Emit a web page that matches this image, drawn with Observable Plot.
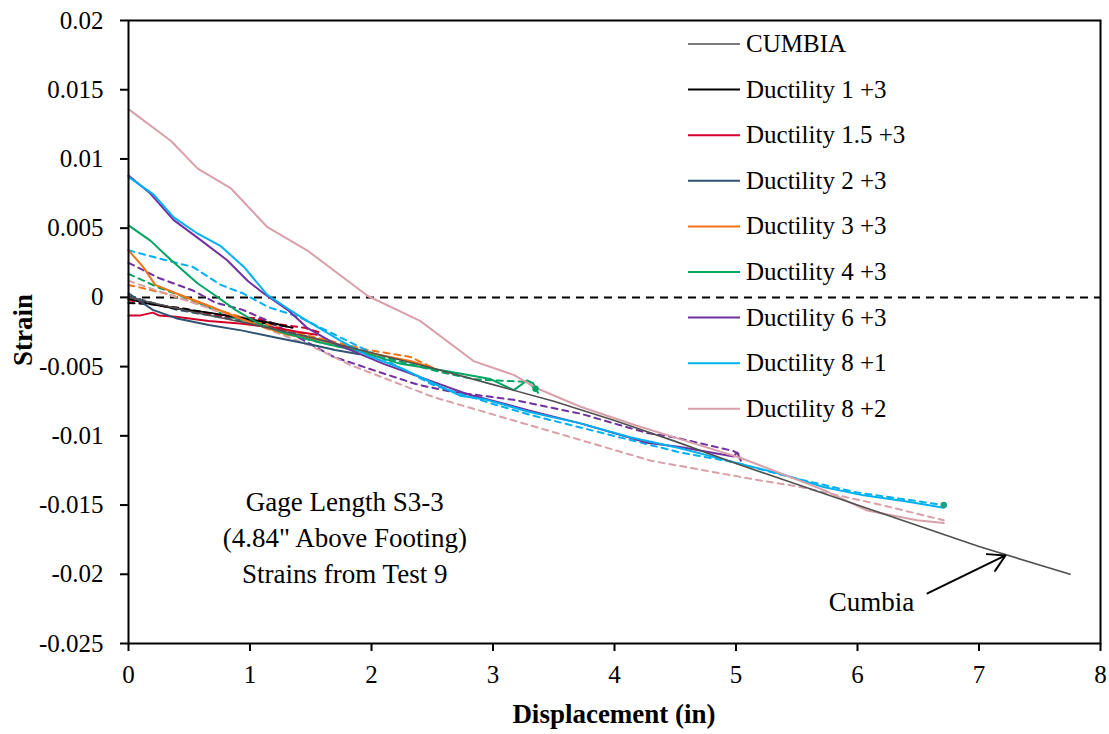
<!DOCTYPE html>
<html><head><meta charset="utf-8">
<script src="https://cdn.jsdelivr.net/npm/d3@7"></script>
<script src="https://cdn.jsdelivr.net/npm/@observablehq/plot@0.6"></script>
<style>
body{margin:0;background:#fff;}
#wrap{position:relative;width:1109px;height:734px;}
</style>
</head><body><div id="wrap"></div>
<script>
// ---------- data ----------
const xTicks = [0,1,2,3,4,5,6,7,8];
const yTicks = [0.02,0.015,0.01,0.005,0,-0.005,-0.01,-0.015,-0.02,-0.025];
const yTickLabels = ["0.02","0.015","0.01","0.005","0","-0.005","-0.01","-0.015","-0.02","-0.025"];

const seriesNames = ["CUMBIA","Ductility 1 +3","Ductility 1.5 +3","Ductility 2 +3","Ductility 3 +3","Ductility 4 +3","Ductility 6 +3","Ductility 8 +1","Ductility 8 +2"];
const seriesColors = ["#505050","#000000","#d4002a","#2f5373","#f07318","#00a562","#7030a0","#00b0f0","#d9a0aa"];

const cumbia = [[0,0],[0.5,-0.0010],[1.0,-0.0019],[1.5,-0.0029],[2.0,-0.0040],[2.5,-0.0051],[3.0,-0.0063],[3.5,-0.0075],[4.0,-0.0089],[4.5,-0.0104],[5.0,-0.0120],[5.5,-0.0135],[6.0,-0.0150],[6.5,-0.0165],[7.0,-0.0180],[7.75,-0.0200]];

const d1Solid = [[0,-0.0001],[0.14,-0.0004],[0.39,-0.0008],[0.66,-0.0011],[0.94,-0.0015],[1.21,-0.0019],[1.35,-0.0022]];
const d1Dash  = [[0,-0.0004],[0.2,-0.0005],[0.45,-0.0008],[0.7,-0.0012],[1.0,-0.0017],[1.3,-0.0021]];
const d15Solid = [[0,-0.0013],[0.1,-0.0013],[0.2,-0.0011],[0.25,-0.0013],[0.39,-0.0014],[0.66,-0.0017],[0.94,-0.0019],[1.21,-0.0022],[1.4,-0.0025],[1.55,-0.0027]];
const d15Dash  = [[0,-0.0002],[0.4,-0.0008],[0.8,-0.0014],[1.05,-0.0015],[1.2,-0.0019],[1.45,-0.0022],[1.6,-0.0026]];
const d2Solid = [[0,0.0003],[0.2,-0.0009],[0.39,-0.0015],[0.66,-0.0020],[0.94,-0.0024],[1.21,-0.0029],[1.5,-0.0034],[1.7,-0.0038],[1.9,-0.0041]];
const d2Dash  = [[0,0.0001],[0.4,-0.0009],[0.8,-0.0015],[1.2,-0.0022],[1.6,-0.0031],[1.9,-0.0038]];
const d3Solid = [[0,0.0034],[0.12,0.0022],[0.22,0.0009],[0.39,0.0003],[0.66,-0.0006],[0.88,-0.0014],[1.13,-0.0022],[1.31,-0.0027],[1.58,-0.0031],[1.97,-0.0040],[2.32,-0.0046],[2.51,-0.0051]];
const d3Dash  = [[0,0.0009],[0.3,0.0003],[0.66,-0.0007],[1.07,-0.0018],[1.5,-0.0028],[1.97,-0.0038],[2.32,-0.0043],[2.53,-0.0052]];
const d4Solid = [[0,0.0052],[0.18,0.0041],[0.35,0.0027],[0.57,0.0010],[0.72,0.0001],[0.88,-0.0009],[1.07,-0.0019],[1.29,-0.0026],[1.6,-0.0033],[1.9,-0.0039],[2.24,-0.0048],[2.6,-0.0053],[2.98,-0.0059],[3.17,-0.0067],[3.28,-0.0060],[3.33,-0.0062],[3.37,-0.0069]];
const d4Dash  = [[0,0.0017],[0.25,0.0007],[0.53,-0.0002],[0.8,-0.0013],[1.07,-0.0020],[1.5,-0.0031],[2.0,-0.0041],[2.57,-0.0054],[2.84,-0.0059],[3.0,-0.0060],[3.28,-0.0061],[3.35,-0.0066]];
const d6Solid = [[0,0.0088],[0.18,0.0075],[0.37,0.0056],[0.57,0.0043],[0.81,0.0027],[0.98,0.0012],[1.11,0.0003],[1.31,-0.0009],[1.47,-0.0022],[1.69,-0.0033],[2.1,-0.0048],[2.51,-0.0061],[2.79,-0.0070],[3.06,-0.0076],[3.31,-0.0082],[3.72,-0.0091],[4.27,-0.0105],[4.54,-0.0108],[4.98,-0.0115],[5.01,-0.0112],[5.04,-0.0118]];
const d6Dash  = [[0,0.0025],[0.25,0.0014],[0.53,0.0005],[0.72,-0.0004],[0.94,-0.0009],[1.15,-0.0017],[1.42,-0.0030],[1.69,-0.0043],[2.1,-0.0055],[2.38,-0.0063],[2.65,-0.0068],[3.17,-0.0074],[3.72,-0.0084],[4.27,-0.0098],[4.49,-0.0101],[4.98,-0.0111],[5.02,-0.0113]];
const d81Solid = [[0,0.0087],[0.21,0.0074],[0.37,0.0058],[0.57,0.0046],[0.76,0.0037],[0.95,0.0022],[1.14,0.0002],[1.31,-0.0008],[1.47,-0.0017],[1.74,-0.0031],[1.97,-0.0042],[2.24,-0.0051],[2.51,-0.0062],[2.73,-0.0071],[2.95,-0.0074],[3.31,-0.0083],[3.72,-0.0091],[4.13,-0.0101],[4.54,-0.0109],[4.98,-0.0119],[5.39,-0.0128],[5.72,-0.0137],[6.05,-0.0143],[6.38,-0.0147],[6.71,-0.0152]];
const d81Dash  = [[0,0.0034],[0.3,0.0027],[0.53,0.0022],[0.76,0.0009],[0.94,0.0003],[1.15,-0.0007],[1.4,-0.0014],[1.7,-0.0027],[2.0,-0.0040],[2.5,-0.0063],[3.0,-0.0077],[3.31,-0.0085],[4.13,-0.0103],[4.54,-0.0112],[4.98,-0.0119],[5.5,-0.0131],[6.0,-0.0141],[6.4,-0.0146],[6.71,-0.0150]];
const d82Solid = [[0,0.0136],[0.35,0.0113],[0.57,0.0093],[0.84,0.0079],[1.14,0.0051],[1.47,0.0034],[1.97,0.0001],[2.4,-0.0017],[2.84,-0.0046],[3.17,-0.0056],[3.37,-0.0066],[3.72,-0.0079],[4.16,-0.0092],[4.6,-0.0104],[5.04,-0.0116],[5.72,-0.0139],[6.08,-0.0154],[6.49,-0.0161],[6.71,-0.0163]];
const d82Dash  = [[0,0.0012],[0.5,-0.0003],[1.0,-0.0018],[1.5,-0.0035],[1.83,-0.0049],[2.51,-0.0072],[2.9,-0.0082],[3.72,-0.0103],[4.3,-0.0118],[5.12,-0.0131],[5.53,-0.0137],[6.2,-0.0150],[6.71,-0.0161]];

const solidSeries = [cumbia,d1Solid,d15Solid,d2Solid,d3Solid,d4Solid,d6Solid,d81Solid,d82Solid];
const dashSeries  = [null,d1Dash,d15Dash,d2Dash,d3Dash,d4Dash,d6Dash,d81Dash,d82Dash];

const noteLines = ["Gage Length S3-3","(4.84\" Above Footing)","Strains from Test 9"];
const notePos = [1.78, -0.0172];
const cumbiaLabel = {x:6.115, y:-0.0220, text:"Cumbia"};
const cumbiaArrow = {x1:6.576, y1:-0.02138, x2:7.218, y2:-0.01864};

// ---------- build rows ----------
const rows = [];
seriesNames.forEach((name,i)=>{
  const pushAll=(arr,style)=>{ if(!arr) return; arr.forEach(([x,y])=>rows.push({name,style,x,y,key:name+"|"+style})); };
  pushAll(dashSeries[i],"dash");
  pushAll(solidSeries[i],"solid");
});
const color = d => seriesColors[seriesNames.indexOf(d.name)];

const dashRows = rows.filter(r=>r.style==="dash");
const solidRows = rows.filter(r=>r.style==="solid" && r.name!=="CUMBIA");
const cumbiaRows = rows.filter(r=>r.name==="CUMBIA");
const endDots = [ {x:d4Dash[d4Dash.length-1][0], y:d4Dash[d4Dash.length-1][1], c:seriesColors[5]},
                  {x:d81Dash[d81Dash.length-1][0], y:d81Dash[d81Dash.length-1][1], c:"#20a080"} ];

const FONT = "'Liberation Serif','Times New Roman',serif";

const plot = Plot.plot({
  width:1109, height:734,
  marginLeft:128, marginRight:9, marginTop:20, marginBottom:91,
  style:{fontFamily:FONT, fontSize:"25px", color:"#000", background:"#fff", overflow:"visible"},
  x:{domain:[0,8], label:null},
  y:{domain:[-0.025,0.02], label:null},
  marks:[
    Plot.ruleY([0], {stroke:"#000", strokeWidth:2, strokeDasharray:"8,6"}),
    Plot.line(dashRows, {x:"x", y:"y", z:"key", stroke:color, strokeWidth:2, strokeDasharray:"6,5"}),
    Plot.line(solidRows, {x:"x", y:"y", z:"key", stroke:color, strokeWidth:2}),
    Plot.line(cumbiaRows, {x:"x", y:"y", stroke:seriesColors[0], strokeWidth:1.6}),
    Plot.dot(endDots, {x:"x", y:"y", r:2.5, fill:"c", stroke:"c"}),
    Plot.frame({stroke:"#000", strokeWidth:2}),
    Plot.axisX(xTicks, {tickSize:8, tickPadding:14, strokeWidth:2, tickFormat:d=>String(d), fontSize:25, label:null}),
    Plot.axisY(yTicks, {tickSize:8, tickPadding:17, strokeWidth:2, tickFormat:d=>yTickLabels[yTicks.indexOf(d)], fontSize:25, label:null}),
    Plot.text([noteLines.join("\n")], {x:()=>notePos[0], y:()=>notePos[1], text:d=>d, fontSize:27, lineHeight:1.33, textAnchor:"middle", fill:"#000"}),
    Plot.text([cumbiaLabel], {x:"x", y:"y", text:"text", fontSize:27, textAnchor:"middle", fill:"#000"}),
    Plot.arrow([cumbiaArrow], {x1:"x1", y1:"y1", x2:"x2", y2:"y2", stroke:"#000", strokeWidth:2, headLength:14, bend:0})
  ]
});

document.getElementById("wrap").appendChild(plot);

// axis titles and legend drawn into the SVG
const svg = d3.select(plot);
svg.append("text").attr("x",614).attr("y",723).attr("text-anchor","middle")
  .attr("font-family",FONT).attr("font-weight","bold").attr("font-size",27).attr("fill","#000")
  .text("Displacement (in)");
svg.append("text").attr("transform","translate(32,330) rotate(-90)").attr("text-anchor","middle")
  .attr("font-family",FONT).attr("font-weight","bold").attr("font-size",27).attr("fill","#000")
  .text("Strain");

const leg = svg.append("g").attr("text-anchor","start");
seriesNames.forEach((name,i)=>{
  const yy = 44 + i*45.6;
  leg.append("line").attr("x1",688).attr("x2",740).attr("y1",yy).attr("y2",yy)
    .attr("stroke",seriesColors[i]).attr("stroke-width", i===0?1.6:2);
  leg.append("text").attr("x",746).attr("y",yy+8).attr("text-anchor","start")
    .attr("font-family",FONT).attr("font-size",25).attr("fill","#000").text(name);
});
</script>
</body></html>
